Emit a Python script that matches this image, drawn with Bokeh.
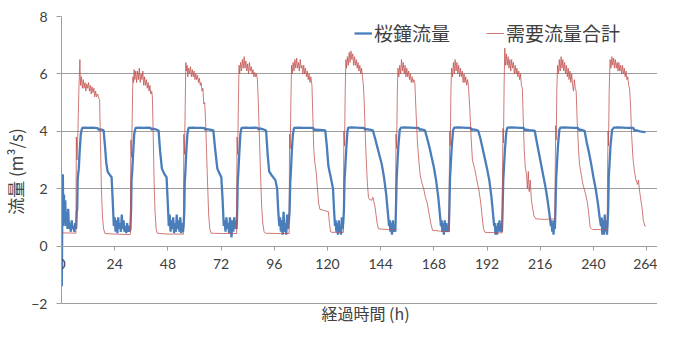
from bokeh.plotting import figure
from bokeh.models import Range1d, FixedTicker, Label, Legend, LegendItem
from bokeh.embed import file_html
from bokeh.resources import INLINE

# ---------------- data ----------------
x_ticks = [0, 24, 48, 72, 96, 120, 144, 168, 192, 216, 240, 264]
y_ticks = [-2, 0, 2, 4, 6, 8]

series_names = ["桜鐘流量", "需要流量合計"]
x_title = "経過時間 (h)"
y_title = "流量 (m³/s)"

# 桜鐘流量 (blue): hours and values, one line per daily cycle
blue_hours = [
    0.0, 0.15, 0.35, 0.6, 0.85, 1.1, 1.4, 1.7, 2.0, 2.3, 2.7, 3.0, 3.4, 3.8, 4.2, 4.6, 5.0, 5.4, 5.8, 6.2, 6.6, 6.9,
    7.1, 7.3, 7.5, 7.8, 8.2, 8.7, 9.3, 10.5, 12, 13.5, 15, 16.3, 16.8, 17.5, 18.5, 19.0, 19.6, 20.2, 20.8, 21.6, 22.6, 23.1, 23.6,
    24.0, 24.4, 24.8, 25.2, 25.6, 26.0, 26.4, 26.8, 27.2, 27.6, 28.0, 28.4, 28.8, 29.2, 29.6, 30.0, 30.4, 30.8, 31.1,
    31.4, 31.6, 31.9, 32.3, 32.8, 33.4, 35, 37, 39, 40.2, 40.6, 41.2, 42.5, 43.8, 44.5, 45.3, 46.5, 47.4, 47.9, 48.4,
    48.8, 49.2, 49.6, 50.0, 50.4, 50.8, 51.2, 51.6, 52.0, 52.4, 52.8, 53.2, 53.6, 54.0, 54.4, 54.8, 55.1,
    55.4, 55.6, 55.9, 56.3, 56.8, 57.3, 59, 61, 63, 64.5, 65.0, 65.5, 67, 68.5, 69.3, 70.3, 71.2, 72.1, 72.7, 73.2,
    73.6, 74.0, 74.4, 74.8, 75.2, 75.6, 76.0, 76.4, 76.7, 77.1, 77.5, 77.9, 78.3, 78.7, 79.0,
    79.3, 79.5, 79.8, 80.2, 80.7, 81.2, 83, 85, 87, 88.5, 89.0, 89.5, 91, 92.3, 93.0, 93.7, 95.0, 96.5, 97.3, 97.8, 98.3,
    98.6, 99.0, 99.4, 99.8, 100.2, 100.6, 101.0, 101.4, 101.8, 102.2, 102.6,
    102.9, 103.2, 103.5, 103.9, 104.4, 104.9, 107, 109, 111, 113.5, 114.0, 114.5, 116.5, 119.0, 119.7, 120.4, 121.2, 122.0, 122.5, 123.0, 123.4,
    123.7, 124.0, 124.4, 124.7, 125.1, 125.4, 125.8, 126.1, 126.5, 126.8, 127.1,
    127.4, 127.7, 128.0, 128.5, 129.0, 129.4, 131, 133, 135, 136.5, 137.0, 137.5, 139, 140.5, 141.5, 142.5, 143.5, 144.5, 145.5, 146.5, 147.2, 147.8,
    148.1, 148.4, 148.8, 149.1, 149.5, 149.8, 150.2, 150.6,
    150.9, 151.2, 151.5, 152.0, 152.6, 153.2, 155, 157, 159, 161, 161.8, 162.3, 164, 165, 166, 167, 168, 169, 170, 170.6, 171.2,
    171.5, 171.8, 172.2, 172.5, 172.9, 173.2, 173.6, 174.0, 174.4, 174.7,
    175.0, 175.3, 175.6, 176.1, 176.7, 177.2, 179, 181, 183, 184.5, 185.0, 185.5, 187, 188, 189, 190, 191, 192, 193, 194, 194.6, 195.2,
    195.5, 195.8, 196.2, 196.5, 196.9, 197.2, 197.6, 198.0, 198.4, 198.7,
    199.0, 199.3, 199.6, 200.1, 200.7, 201.2, 203, 205, 207, 208.5, 209.0, 209.5, 211, 213.5, 214.5, 215.5, 216.5, 217.5, 218.5, 219.3, 220.0, 220.8,
    221.1, 221.4, 221.7, 222.0, 222.3, 222.6,
    222.9, 223.2, 223.5, 224.0, 224.6, 225.1, 227, 229, 231, 233, 233.7, 234.2, 236, 237, 238, 239, 240, 241, 242, 242.8, 243.4,
    243.7, 244.0, 244.4, 244.7, 245.1, 245.4, 245.8, 246.1, 246.4,
    246.7, 246.9, 247.2, 247.7, 248.4, 249.2, 251, 253, 255, 257, 258.0, 258.5, 259.0, 261, 262.5, 263.5,
]
blue_flow = [
    1.9, -1.4, 1.1, 2.5, 0.7, 1.8, 0.8, 1.6, 0.7, 1.2, 0.6, 1.3, 0.6, 0.8, 0.5, 0.9, 0.6, 0.7, 0.5, 0.8, 0.6, 1.2,
    1.3, 2.3, 2.5, 2.7, 3.3, 3.9, 4.12, 4.13, 4.12, 4.13, 4.12, 4.11, 4.05, 4.07, 4.05, 4.03, 3.5, 2.9, 2.6, 2.5, 2.4, 1.6, 0.7,
    1.0, 0.5, 0.9, 0.45, 1.0, 0.6, 0.8, 0.5, 1.1, 0.6, 0.9, 0.5, 0.7, 0.45, 0.8, 0.5, 0.7, 0.5, 0.6,
    1.3, 2.3, 2.6, 3.2, 3.9, 4.12, 4.13, 4.12, 4.13, 4.12, 4.05, 4.09, 4.07, 4.03, 3.3, 2.7, 2.5, 2.4, 1.6, 0.7,
    1.1, 0.5, 0.9, 0.6, 1.0, 0.45, 0.8, 0.5, 1.1, 0.6, 0.9, 0.5, 1.0, 0.45, 0.8, 0.5, 0.7,
    1.2, 2.2, 2.6, 3.3, 3.9, 4.12, 4.13, 4.12, 4.12, 4.11, 4.05, 4.08, 4.06, 4.03, 3.4, 2.7, 2.55, 2.4, 1.6, 0.7,
    0.9, 0.5, 1.0, 0.6, 0.8, 0.45, 1.0, 0.6, 0.3, 0.9, 0.5, 1.0, 0.6, 0.8, 0.6,
    1.3, 2.2, 2.6, 3.2, 3.9, 4.12, 4.13, 4.12, 4.13, 4.12, 4.06, 4.1, 4.07, 4.03, 3.2, 2.6, 2.45, 2.3, 2.0, 1.2, 0.7,
    1.0, 0.5, 0.9, 0.4, 1.2, 0.5, 0.8, 0.4, 1.1, 0.6, 0.9,
    1.2, 2.2, 2.6, 3.3, 3.9, 4.12, 4.13, 4.12, 4.12, 4.12, 4.04, 4.06, 4.05, 4.03, 3.5, 2.8, 2.5, 2.2, 2.0, 1.2, 0.7,
    0.9, 0.5, 0.8, 0.4, 0.9, 0.5, 0.7, 0.4, 1.0, 0.6, 0.8,
    1.2, 2.3, 2.7, 3.4, 4.0, 4.13, 4.14, 4.13, 4.12, 4.12, 4.05, 4.08, 4.06, 4.03, 3.75, 3.45, 3.15, 2.85, 2.4, 1.8, 1.2, 0.7,
    0.9, 0.5, 0.8, 0.4, 0.9, 0.5, 0.7, 0.5,
    1.3, 2.3, 2.8, 3.5, 4.05, 4.13, 4.14, 4.13, 4.12, 4.12, 4.05, 4.07, 4.03, 3.75, 3.45, 3.1, 2.75, 2.3, 1.7, 1.2, 0.7,
    0.9, 0.5, 0.8, 0.4, 0.9, 0.5, 0.8, 0.5, 0.7, 0.5,
    1.3, 2.4, 2.8, 3.5, 4.05, 4.13, 4.14, 4.13, 4.12, 4.12, 4.05, 4.07, 4.05, 4.02, 3.75, 3.4, 3.05, 2.7, 2.3, 1.7, 1.2, 0.7,
    0.8, 0.4, 0.7, 0.4, 0.8, 0.5, 0.9, 0.5, 0.7, 0.5,
    1.2, 2.3, 2.7, 3.4, 4.0, 4.13, 4.14, 4.13, 4.12, 4.12, 4.04, 4.06, 4.04, 4.02, 3.6, 3.2, 2.8, 2.4, 2.0, 1.6, 1.2, 0.7,
    0.9, 0.5, 0.8, 0.4, 0.9, 0.6,
    1.4, 2.4, 2.8, 3.5, 4.05, 4.13, 4.14, 4.13, 4.12, 4.12, 4.03, 4.06, 4.02, 3.6, 3.25, 2.85, 2.4, 2.0, 1.5, 1.0, 0.7,
    1.0, 0.4, 0.9, 0.4, 1.1, 0.5, 0.9, 0.4, 0.8,
    1.4, 2.4, 2.8, 3.5, 4.05, 4.13, 4.14, 4.13, 4.12, 4.12, 4.12, 4.02, 4.04, 4.0, 3.98, 3.97,
]

# 需要流量合計 (red): hours and values, one line per daily cycle
red_hours = [
    0.0, 3.0, 6.5, 6.7, 7.0, 7.4, 7.9, 8.3, 8.6, 9.0, 9.4, 9.8, 10.2, 10.6, 11.0, 11.4, 11.8, 12.2, 12.6, 13.0, 13.4, 13.8, 14.2, 14.6, 15.0, 15.4, 15.8, 16.3, 16.8, 17.2, 17.6, 18.0, 18.5, 19.0, 19.6, 24.0, 30.9,
    31.1, 31.3, 31.6, 31.9, 32.2, 32.5, 32.8, 33.1, 33.5, 33.9, 34.3, 34.7, 35.1, 35.5, 35.9, 36.3, 36.7, 37.1, 37.5, 37.9, 38.3, 38.7, 39.1, 39.5, 39.9, 40.3, 40.7, 41.0, 41.4, 41.8, 42.2, 42.7, 43.2, 48.0, 55.0,
    55.2, 55.5, 55.8, 56.1, 56.4, 56.7, 57.0, 57.4, 57.8, 58.2, 58.6, 59.0, 59.4, 59.8, 60.2, 60.6, 61.0, 61.4, 61.8, 62.2, 62.6, 63.0, 63.4, 63.8, 64.2, 64.6, 65.0, 65.4, 65.9, 66.4, 66.9, 67.5, 72.0, 79.0,
    79.2, 79.5, 79.8, 80.1, 80.4, 80.8, 81.2, 81.6, 82.0, 82.4, 82.8, 83.2, 83.6, 84.0, 84.4, 84.8, 85.2, 85.6, 86.0, 86.4, 86.8, 87.2, 87.6, 88.0, 88.4, 88.8, 89.3, 89.8, 90.3, 90.8, 91.4, 92.0, 97.0, 102.7,
    102.9, 103.2, 103.5, 103.8, 104.1, 104.5, 104.9, 105.3, 105.7, 106.1, 106.5, 106.9, 107.3, 107.7, 108.1, 108.5, 108.9, 109.3, 109.7, 110.1, 110.5, 110.9, 111.3, 111.7, 112.1, 112.5, 113.0, 113.4, 113.8, 114.3, 114.9, 115.4, 116.0, 116.6, 118.0, 119.5, 120.4, 120.9, 121.4, 122.0, 127.2,
    127.4, 127.7, 128.0, 128.3, 128.6, 129.0, 129.4, 129.8, 130.2, 130.6, 131.0, 131.4, 131.8, 132.2, 132.6, 133.0, 133.4, 133.8, 134.2, 134.6, 135.0, 135.4, 135.8, 136.2, 136.6, 137.0, 137.5, 138.0, 138.5, 139.0, 140.0, 140.5, 140.9, 141.4, 141.9, 142.4, 143.0, 147.0, 150.7,
    150.9, 151.2, 151.5, 151.8, 152.2, 152.6, 153.0, 153.4, 153.8, 154.2, 154.6, 155.0, 155.4, 155.8, 156.2, 156.6, 157.0, 157.4, 157.8, 158.2, 158.6, 159.0, 159.4, 160.0, 160.6, 161.2, 161.8, 162.6, 163.4, 164.2, 165.0, 165.8, 166.6, 167.4, 171.0, 174.8,
    175.0, 175.2, 175.4, 175.7, 176.0, 176.4, 176.8, 177.2, 177.6, 178.0, 178.4, 178.8, 179.2, 179.6, 180.0, 180.4, 180.8, 181.2, 181.6, 182.0, 182.4, 182.8, 183.2, 183.6, 184.2, 184.8, 185.4, 186.4, 187.4, 188.2, 188.8, 189.3, 189.8, 190.4, 191.1, 195.0, 198.8,
    199.0, 199.2, 199.4, 199.7, 200.0, 200.3, 200.7, 201.1, 201.5, 201.9, 202.3, 202.7, 203.1, 203.5, 203.9, 204.3, 204.7, 205.1, 205.5, 205.9, 206.3, 206.7, 207.1, 207.5, 207.9, 208.3, 208.8, 209.3, 209.8, 210.2, 210.6, 211.0, 211.5, 212.0, 212.6, 213.2, 214.0, 218.0, 222.6,
    222.8, 223.0, 223.2, 223.5, 223.8, 224.2, 224.6, 225.0, 225.4, 225.8, 226.2, 226.6, 227.0, 227.4, 227.8, 228.2, 228.6, 229.0, 229.4, 229.8, 230.2, 230.6, 231.0, 231.4, 231.8, 232.2, 232.7, 233.3, 233.8, 234.5, 235.1, 235.8, 236.5, 237.3, 237.8, 238.5, 239.5, 246.2,
    246.4, 246.6, 246.8, 247.1, 247.5, 247.9, 248.3, 248.7, 249.1, 249.5, 249.9, 250.3, 250.7, 251.1, 251.5, 251.9, 252.3, 252.7, 253.1, 253.5, 253.9, 254.3, 254.7, 255.1, 255.5, 255.9, 256.3, 256.8, 257.2, 257.8, 258.5, 259.2, 259.9, 260.3, 260.7, 261.3, 261.9, 262.5, 263.2, 263.6,
]
red_flow = [
    0.46, 0.46, 0.45, 3.8, 3.0, 4.0, 5.6, 6.5, 5.6, 5.9, 5.5, 5.8, 5.5, 5.7, 5.4, 5.65, 5.5, 5.7, 5.4, 5.6, 5.3, 5.55, 5.35, 5.5, 5.2, 5.4, 5.2, 5.3, 5.15, 5.1, 3.5, 2.0, 1.0, 0.6, 0.44, 0.42, 0.4,
    0.42, 3.7, 3.1, 4.5, 5.9, 5.7, 6.15, 5.8, 6.1, 5.7, 6.1, 5.8, 6.2, 5.7, 6.0, 5.8, 6.1, 5.6, 5.9, 5.6, 5.8, 5.5, 5.7, 5.4, 5.6, 5.3, 5.4, 5.2, 3.8, 2.2, 1.2, 0.6, 0.45, 0.42, 0.42,
    3.9, 3.2, 4.8, 6.4, 6.1, 6.3, 5.9, 6.2, 6.0, 6.25, 5.9, 6.15, 5.9, 6.1, 5.8, 6.0, 5.8, 5.95, 5.7, 5.85, 5.6, 5.7, 5.4, 5.5, 4.95, 5.0, 4.4, 3.4, 2.2, 1.1, 0.6, 0.45, 0.44, 0.44,
    3.8, 3.2, 5.0, 6.3, 6.0, 6.4, 6.1, 6.5, 6.2, 6.6, 6.2, 6.45, 6.1, 6.35, 6.0, 6.4, 6.1, 6.25, 6.0, 6.15, 5.9, 6.05, 5.9, 6.0, 5.8, 5.0, 3.8, 2.5, 1.4, 0.8, 0.5, 0.45, 0.44, 0.44,
    3.9, 3.4, 5.1, 6.3, 6.0, 6.4, 6.1, 6.5, 6.2, 6.55, 6.2, 6.4, 6.1, 6.5, 6.2, 6.3, 6.0, 6.3, 6.0, 6.2, 5.9, 6.1, 5.8, 6.0, 5.7, 5.9, 5.6, 4.5, 3.4, 2.9, 2.6, 2.1, 1.5, 1.28, 1.25, 1.22, 1.2, 0.8, 0.5, 0.48, 0.48,
    4.0, 3.5, 5.4, 6.5, 6.2, 6.6, 6.3, 6.75, 6.4, 6.8, 6.5, 6.7, 6.3, 6.6, 6.3, 6.5, 6.2, 6.4, 6.1, 6.3, 6.0, 6.2, 5.9, 5.6, 5.0, 4.0, 3.0, 2.2, 1.7, 1.62, 1.6, 1.7, 1.55, 1.4, 1.1, 0.8, 0.6, 0.58, 0.57,
    3.9, 3.4, 5.3, 6.2, 5.9, 6.3, 6.0, 6.5, 6.1, 6.4, 6.0, 6.3, 5.9, 6.2, 5.9, 6.1, 5.8, 6.0, 5.7, 5.9, 5.7, 5.8, 5.7, 4.6, 3.6, 3.0, 2.5, 2.2, 2.0, 1.7, 1.5, 1.15, 0.8, 0.55, 0.52, 0.5,
    2.7, 4.0, 3.5, 5.4, 6.2, 5.9, 6.4, 6.0, 6.5, 6.1, 6.4, 6.0, 6.3, 5.9, 6.2, 5.9, 6.1, 5.7, 6.0, 5.7, 5.9, 5.6, 5.8, 5.6, 4.8, 3.8, 3.0, 2.7, 2.3, 2.0, 1.7, 1.4, 1.0, 0.6, 0.48, 0.47, 0.46,
    2.8, 4.1, 3.6, 5.6, 6.9, 6.3, 6.7, 6.3, 6.6, 6.2, 6.5, 6.1, 6.5, 6.2, 6.4, 6.0, 6.3, 6.0, 6.2, 5.9, 6.1, 5.8, 6.0, 5.6, 5.5, 4.5, 3.3, 2.7, 2.5, 2.0, 2.6, 1.9, 2.3, 1.6, 1.3, 1.05, 0.95, 0.93, 0.95,
    3.0, 4.2, 3.7, 5.5, 6.3, 6.0, 6.5, 6.1, 6.6, 6.2, 6.5, 6.1, 6.4, 6.0, 6.3, 5.9, 6.2, 5.8, 6.1, 5.7, 6.0, 5.6, 5.4, 5.8, 5.5, 5.4, 4.3, 3.3, 2.8, 2.5, 2.2, 2.0, 1.8, 1.5, 1.2, 0.65, 0.58, 0.57,
    2.8, 4.0, 3.5, 5.4, 6.5, 6.2, 6.6, 6.3, 6.55, 6.2, 6.5, 6.2, 6.4, 6.1, 6.4, 6.1, 6.3, 6.0, 6.3, 6.0, 6.2, 5.9, 6.1, 5.8, 5.9, 5.6, 5.5, 4.8, 3.9, 3.1, 2.6, 2.3, 2.15, 2.3, 2.0, 1.65, 1.35, 0.9, 0.7, 0.7,
]

# ---------------- figure ----------------
TEXT = "#404040"
GRID = "#9E9E9E"
CJK = "Noto Sans CJK JP"

# the frame runs to the bottom of the figure; the extra room below -2
# holds the x-axis title
p = figure(width=657, height=326, output_backend="svg", toolbar_location=None,
           x_range=Range1d(0, 268.9), y_range=Range1d(-2.8, 8),
           min_border_left=0, min_border_right=0, min_border_top=16, min_border_bottom=0)
p.outline_line_color = None
p.background_fill_color = "white"
p.border_fill_color = "white"

r_blue = p.line(blue_hours, blue_flow, line_color="#4A7EBB", line_width=2.3)
r_red = p.line(red_hours, red_flow, line_color="#C0504D", line_width=0.9, line_alpha=0.85)

# x axis sits at y = 0
xa = p.xaxis[0]
xa.ticker = FixedTicker(ticks=x_ticks)
xa.fixed_location = 0
xa.axis_line_color = GRID
xa.major_tick_line_color = GRID
xa.major_tick_in = 0
xa.major_tick_out = 4
xa.minor_tick_line_color = None
xa.major_label_standoff = 9
xa.major_label_text_font = "Lato"
xa.major_label_text_font_size = "14px"
xa.major_label_text_color = TEXT

ya = p.yaxis[0]
ya.ticker = FixedTicker(ticks=y_ticks)
ya.bounds = (-2, 8)
ya.axis_line_color = GRID
ya.major_tick_line_color = GRID
ya.major_tick_in = 0
ya.major_tick_out = 5
ya.minor_tick_line_color = None
ya.major_label_standoff = 9
ya.major_label_text_font = "Lato"
ya.major_label_text_font_size = "14px"
ya.major_label_text_color = TEXT
ya.axis_label = y_title
ya.axis_label_text_font = CJK
ya.axis_label_text_font_size = "17px"
ya.axis_label_text_font_style = "normal"
ya.axis_label_text_color = TEXT
ya.axis_label_standoff = 0

p.xgrid.visible = False
p.ygrid.ticker = FixedTicker(ticks=y_ticks)
p.ygrid.grid_line_color = GRID
p.ygrid.grid_line_width = 1

# x-axis title, inside the frame below the -2 line
p.add_layout(Label(x=304, y=14, x_units="screen", y_units="screen", text=x_title,
                   text_align="center", text_baseline="middle", text_font=CJK,
                   text_font_size="16px", text_color=TEXT))

legend = Legend(items=[LegendItem(label=series_names[0], renderers=[r_blue]),
                       LegendItem(label=series_names[1], renderers=[r_red])],
                orientation="horizontal", location=(293, 280),
                background_fill_alpha=0, border_line_alpha=0,
                padding=0, margin=0, spacing=36, label_standoff=2,
                glyph_width=18, glyph_height=18, label_height=18,
                label_text_font=CJK, label_text_font_size="19px", label_text_color=TEXT)
p.add_layout(legend)

open("out.html", "w").write(file_html(p, INLINE))
